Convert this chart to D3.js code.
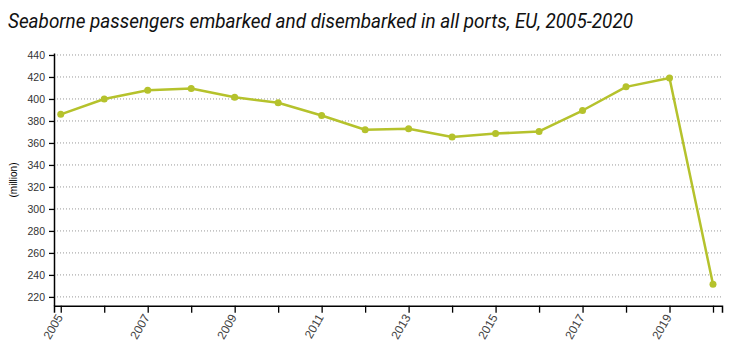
<!DOCTYPE html>
<html><head><meta charset="utf-8">
<script src="https://cdn.jsdelivr.net/npm/d3@7"></script>
<style>body{margin:0;background:#fff}svg{display:block}</style>
</head><body>
<svg id="c" width="731" height="359"></svg>
<script>
const years = [2005,2006,2007,2008,2009,2010,2011,2012,2013,2014,2015,2016,2017,2018,2019,2020];
const passengers = [386,400,408,409.5,401.5,396.5,385,372,373,365.5,368.5,370.5,389.5,411,419,231.5];
const yTicks = [220,240,260,280,300,320,340,360,380,400,420,440];
const xLabelYears = [2005,2007,2009,2011,2013,2015,2017,2019];

(function(){
const svg = d3.select('#c');
const mL = 54, mR = 722, mT = 53, mB = 305.7;
const x = d3.scaleLinear().domain([2004.845, 2020.207]).range([mL, mR]);
const y = d3.scaleLinear().domain([212, 441.8]).range([mB, mT]);

// grid
svg.append('g').selectAll('line').data(yTicks).join('line')
  .attr('x1', mL).attr('x2', mR)
  .attr('y1', d => y(d)).attr('y2', d => y(d))
  .attr('stroke', '#999').attr('stroke-width', 1).attr('stroke-dasharray', '1,2');

// y axis
const ya = svg.append('g').attr('transform', `translate(${mL},0)`)
  .call(d3.axisLeft(y).tickValues(yTicks).tickSize(5).tickPadding(4).tickSizeOuter(0));
ya.select('.domain').attr('stroke', '#000').attr('stroke-width', 1.5);
ya.selectAll('.tick line').attr('stroke', '#000').attr('stroke-width', 1.3);
ya.selectAll('text').attr('font-family', 'Liberation Sans, Arial, sans-serif').attr('font-size', 10.5).attr('fill', '#333');

// x axis
const xa = svg.append('g').attr('transform', `translate(0,${mB})`)
  .call(d3.axisBottom(x).tickValues(years).tickSize(7).tickSizeOuter(7)
    .tickFormat(d => xLabelYears.includes(d) ? String(d) : ''));
xa.select('.domain').attr('stroke', '#000').attr('stroke-width', 1.5);
xa.selectAll('.tick line').attr('stroke', '#000').attr('stroke-width', 1.3);
xa.selectAll('text')
  .attr('font-family', 'Liberation Sans, Arial, sans-serif').attr('font-size', 12).attr('fill', '#444')
  .attr('text-anchor', 'end').attr('dy', 0)
  .attr('transform', 'translate(2,11.5) rotate(-60)').attr('y', 0).attr('x', 0);

// y label
svg.append('text').attr('transform', `translate(17,180) rotate(-90)`)
  .attr('text-anchor', 'middle').attr('font-family', 'Liberation Sans, Arial, sans-serif')
  .attr('font-size', 10).attr('fill', '#000').text('(million)');

// line
const data = years.map((yr, i) => ({yr, v: passengers[i]}));
const color = '#b5c22c';
svg.append('path').datum(data)
  .attr('d', d3.line().x(d => x(d.yr)).y(d => y(d.v)))
  .attr('fill', 'none').attr('stroke', color).attr('stroke-width', 2.5).attr('stroke-linejoin', 'round');
svg.append('g').selectAll('circle').data(data).join('circle')
  .attr('cx', d => x(d.yr)).attr('cy', d => y(d.v)).attr('r', 3.5).attr('fill', color);

// title
svg.append('text').attr('x', 8).attr('y', 28)
  .attr('font-family', 'Roboto, sans-serif').attr('font-style', 'italic').attr('font-size', 21)
  .attr('fill', '#111').attr('textLength', 625).attr('lengthAdjust', 'spacingAndGlyphs')
  .text('Seaborne passengers embarked and disembarked in all ports, EU, 2005-2020');
})();
</script>
</body></html>
